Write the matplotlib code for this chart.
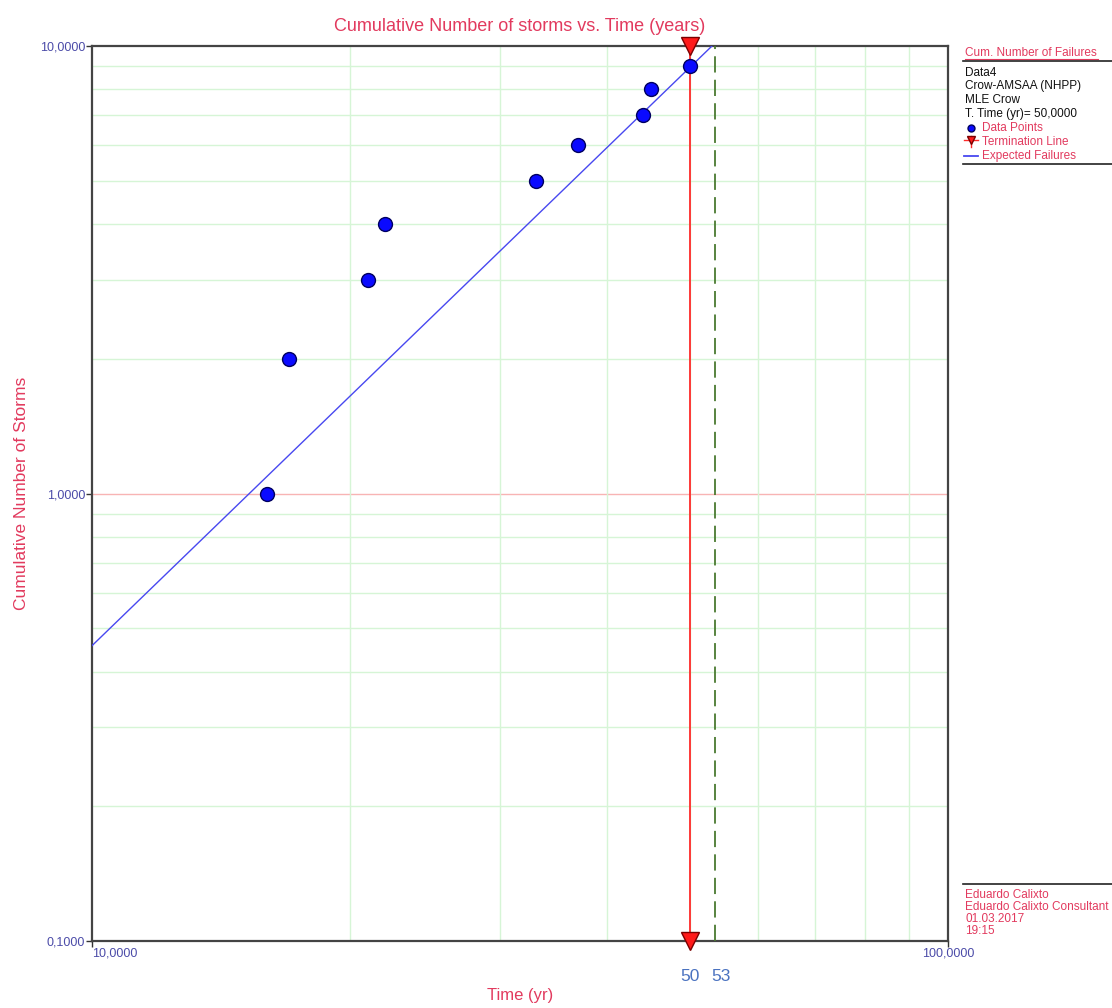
import matplotlib
matplotlib.use("Agg")
import matplotlib.pyplot as plt
from matplotlib.ticker import FixedLocator, NullFormatter
from matplotlib.lines import Line2D
import matplotlib.transforms as mtransforms

# ---- data ----
times = [16, 17, 21, 22, 33, 37, 44, 45, 50]
cum_storms = [1, 2, 3, 4, 5, 6, 7, 8, 9]
fit_t = [10, 53]          # expected failures (Crow-AMSAA fit) endpoints
fit_n = [0.457, 10.0]
term_time = 50
end_time = 53.5
time_labels = ["50", "53"]
x_major = [10, 100]
x_major_labels = ["10,0000", "100,0000"]
y_major = [0.1, 1, 10]
y_major_labels = ["0,1000", "1,0000", "10,0000"]
x_minor = [20, 30, 40, 50, 60, 70, 80, 90]
y_minor = [0.2, 0.3, 0.4, 0.5, 0.6, 0.7, 0.8, 0.9, 2, 3, 4, 5, 6, 7, 8, 9]
legend_head = ["Data4", "Crow-AMSAA (NHPP)", "MLE Crow", "T. Time (yr)= 50,0000"]
legend_items = ["Data Points", "Termination Line", "Expected Failures"]
footer = ["Eduardo Calixto", "Eduardo Calixto Consultant", "01.03.2017", "19:15"]

PINK = "#e23a5e"
TICKC = "#4b4ba8"
FONT = ["Liberation Sans", "DejaVu Sans"]

fig = plt.figure(figsize=(11.12, 10.08), dpi=100)
ax = fig.add_axes([92/1112, 1-941/1008, (948-92)/1112, (941-46)/1008])
ax.set_xscale("log")
ax.set_yscale("log")
ax.set_xlim(10, 100)
ax.set_ylim(0.1, 10)

ax.xaxis.set_major_locator(FixedLocator(x_major))
ax.xaxis.set_minor_locator(FixedLocator(x_minor))
ax.yaxis.set_major_locator(FixedLocator(y_major))
ax.yaxis.set_minor_locator(FixedLocator(y_minor))
ax.set_xticklabels(x_major_labels, family=FONT, fontsize=9, color=TICKC)
ax.set_yticklabels(y_major_labels, family=FONT, fontsize=9, color=TICKC)
ax.xaxis.set_minor_formatter(NullFormatter())
ax.yaxis.set_minor_formatter(NullFormatter())
ax.tick_params(which="major", length=4, width=1, color="#333333", pad=1)
ax.tick_params(which="minor", length=0)
for lab in ax.get_xticklabels():
    lab.set_horizontalalignment("left" if lab.get_text() == "10,0000" else "center")

ax.grid(which="minor", color="#d6f5d6", lw=1)
ax.axhline(1, color="#f8b4b4", lw=1, zorder=1)
for s in ax.spines.values():
    s.set_color("#444444")
    s.set_linewidth(1.6)

ax.plot(fit_t, fit_n, color="#4848f0", lw=1, zorder=3)
ax.axvline(end_time, color="#4a7a30", lw=1.3, ls=(0, (9, 4)), zorder=3)
ax.axvline(term_time, color="#ff2a2a", lw=1.3, zorder=4)
ax.plot([term_time, term_time], [10, 0.1], ls="none", marker="v", ms=13,
        mfc="#ff1a1a", mec="#7a0000", mew=1, clip_on=False, zorder=6)
ax.plot(times, cum_storms, ls="none", marker="o", ms=10, mfc="#0a0aff",
        mec="#000060", mew=1, zorder=5)

ax.set_title("Cumulative Number of storms vs. Time (years)", color=PINK,
             family=FONT, fontsize=13, pad=11)
ax.set_xlabel("Time (yr)", color=PINK, family=FONT, fontsize=12, labelpad=20)
ax.set_ylabel("Cumulative Number of Storms", color=PINK, family=FONT,
              fontsize=12.5, labelpad=8)

trans = mtransforms.blended_transform_factory(ax.transData, ax.transAxes)
ax.text(term_time, -0.04, time_labels[0], transform=trans, ha="center", va="center",
        color="#4a72c0", fontsize=12.5, family=FONT)
ax.text(end_time + 0.8, -0.04, time_labels[1], transform=trans, ha="center", va="center",
        color="#4a72c0", fontsize=12.5, family=FONT)

# ---- legend block (right) ----
def fx(px):
    return px / 1112
def fy(py):
    return 1 - py / 1008

fig.text(fx(965), fy(53), "Cum. Number of Failures", color=PINK, family=FONT,
         fontsize=8.5, va="center")
fig.add_artist(Line2D([fx(965), fx(1098)], [fy(59), fy(59)], color=PINK, lw=0.8))
fig.add_artist(Line2D([fx(963), 1], [fy(61), fy(61)], color="#222222", lw=1.2))
for i, t in enumerate(legend_head):
    fig.text(fx(965), fy(73 + i * 13.5), t, color="#111111", family=FONT,
             fontsize=8.5, va="center")
item_y = [128, 142, 156]
fig.add_artist(Line2D([fx(971)], [fy(item_y[0])], marker="o", ms=5, mfc="#0a0aff",
                      mec="#000060", ls="none"))
fig.add_artist(Line2D([fx(964), fx(978)], [fy(item_y[1] - 2), fy(item_y[1] - 2)],
                      color="#ff2a2a", lw=1))
fig.add_artist(Line2D([fx(971), fx(971)], [fy(item_y[1] - 6), fy(item_y[1] + 5)],
                      color="#ff2a2a", lw=1))
fig.add_artist(Line2D([fx(971)], [fy(item_y[1] - 2)], marker="v", ms=6, mfc="#ff1a1a",
                      mec="#7a0000", ls="none"))
fig.add_artist(Line2D([fx(964), fx(978)], [fy(item_y[2]), fy(item_y[2])],
                      color="#4848f0", lw=1.3))
for i, t in enumerate(legend_items):
    fig.text(fx(982), fy(item_y[i]), t, color=PINK, family=FONT,
             fontsize=8.5, va="center")
fig.add_artist(Line2D([fx(963), 1], [fy(164), fy(164)], color="#222222", lw=1.2))

# ---- footer block ----
fig.add_artist(Line2D([fx(963), 1], [fy(884), fy(884)], color="#222222", lw=1.2))
for i, t in enumerate(footer):
    fig.text(fx(965), fy(895 + i * 12), t, color=PINK, family=FONT,
             fontsize=8.5, va="center")

fig.savefig("out.png", dpi=100, facecolor="white")
